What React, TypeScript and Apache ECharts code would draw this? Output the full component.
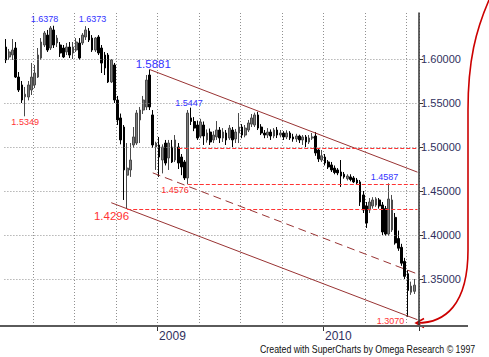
import React, { useEffect, useRef } from "react";
import * as echarts from "echarts";

// ---------- data ----------
const FIRST_WEEK_UTC = Date.UTC(2008, 1, 1);
const WEEK_MS = 7 * 86400000;
const SLOT_COUNT = 130; // 129 weekly bars + one empty slot at the right edge

const weeks: string[] = Array.from({ length: SLOT_COUNT }, (_, i) =>
  new Date(FIRST_WEEK_UTC + i * WEEK_MS).toISOString().slice(0, 10)
);

const priceTicks = [1.35, 1.4, 1.45, 1.5, 1.55, 1.6];

// weekly bars: [open, close, low, high]
const ohlc: number[][] = [
  [1.6136, 1.5989, 1.5954, 1.6227],
  [1.6023, 1.608, 1.5989, 1.6114],
  [1.6046, 1.6102, 1.5989, 1.6227],
  [1.6125, 1.5795, 1.5784, 1.6193],
  [1.5795, 1.5648, 1.5625, 1.5852],
  [1.5705, 1.5534, 1.55, 1.575],
  [1.557, 1.56, 1.5349, 1.5682],
  [1.5568, 1.5705, 1.553, 1.575],
  [1.5648, 1.5795, 1.5591, 1.5955],
  [1.5705, 1.5841, 1.567, 1.5932],
  [1.5795, 1.6045, 1.5784, 1.6125],
  [1.6011, 1.6193, 1.5989, 1.6238],
  [1.6159, 1.6295, 1.6136, 1.6318],
  [1.6272, 1.6102, 1.608, 1.633],
  [1.6125, 1.6352, 1.6102, 1.6375],
  [1.633, 1.6159, 1.6125, 1.6378],
  [1.6182, 1.6238, 1.6136, 1.6272],
  [1.6159, 1.6068, 1.6023, 1.6193],
  [1.6125, 1.6023, 1.6011, 1.6159],
  [1.608, 1.6136, 1.6045, 1.6182],
  [1.6136, 1.6045, 1.6011, 1.6193],
  [1.6068, 1.6136, 1.6, 1.6193],
  [1.6102, 1.6193, 1.608, 1.6238],
  [1.6182, 1.6011, 1.5989, 1.6238],
  [1.6182, 1.6272, 1.6159, 1.6295],
  [1.625, 1.633, 1.6216, 1.6373],
  [1.6318, 1.6216, 1.6193, 1.6352],
  [1.6238, 1.6102, 1.608, 1.6272],
  [1.6102, 1.6238, 1.608, 1.625],
  [1.625, 1.6068, 1.6045, 1.6272],
  [1.6125, 1.5954, 1.5841, 1.6159],
  [1.6045, 1.5898, 1.5818, 1.608],
  [1.6045, 1.5739, 1.5727, 1.6068],
  [1.5739, 1.5989, 1.5727, 1.6],
  [1.5932, 1.5534, 1.55, 1.5955],
  [1.5534, 1.5307, 1.525, 1.558],
  [1.533, 1.508, 1.503, 1.538],
  [1.5227, 1.4739, 1.4398, 1.525],
  [1.468, 1.476, 1.4296, 1.5045],
  [1.4739, 1.4852, 1.466, 1.5045],
  [1.5023, 1.5114, 1.499, 1.5227],
  [1.5045, 1.5386, 1.5023, 1.542],
  [1.5307, 1.542, 1.5045, 1.5455],
  [1.542, 1.5534, 1.5375, 1.558],
  [1.5455, 1.5761, 1.542, 1.5818],
  [1.5818, 1.5455, 1.542, 1.5881],
  [1.5364, 1.5023, 1.499, 1.542],
  [1.5, 1.5045, 1.4739, 1.506],
  [1.5023, 1.4886, 1.466, 1.5114],
  [1.4852, 1.5, 1.47, 1.503],
  [1.5045, 1.4818, 1.479, 1.508],
  [1.4875, 1.5045, 1.4739, 1.508],
  [1.5, 1.483, 1.4818, 1.508],
  [1.4852, 1.508, 1.483, 1.5136],
  [1.5, 1.4818, 1.475, 1.5045],
  [1.4886, 1.4773, 1.468, 1.492],
  [1.483, 1.4648, 1.4625, 1.4852],
  [1.4648, 1.5386, 1.4576, 1.542],
  [1.533, 1.529, 1.525, 1.5447],
  [1.529, 1.5215, 1.518, 1.534],
  [1.525, 1.5102, 1.508, 1.53],
  [1.5125, 1.5284, 1.51, 1.532],
  [1.525, 1.5125, 1.5023, 1.529],
  [1.508, 1.5159, 1.505, 1.52],
  [1.517, 1.5057, 1.5023, 1.521],
  [1.508, 1.5136, 1.5045, 1.518],
  [1.5114, 1.5193, 1.508, 1.5295],
  [1.5193, 1.5102, 1.5045, 1.5227],
  [1.5102, 1.517, 1.5057, 1.5215],
  [1.5159, 1.508, 1.5023, 1.5193],
  [1.5102, 1.5215, 1.508, 1.525],
  [1.5193, 1.508, 1.5, 1.5227],
  [1.5091, 1.517, 1.5045, 1.5205],
  [1.5159, 1.5227, 1.5045, 1.5386],
  [1.5227, 1.5136, 1.51, 1.526],
  [1.5136, 1.5215, 1.511, 1.525],
  [1.5193, 1.5273, 1.517, 1.5307],
  [1.526, 1.533, 1.5227, 1.5375],
  [1.525, 1.5364, 1.5227, 1.539],
  [1.5364, 1.5215, 1.5193, 1.54],
  [1.5227, 1.5159, 1.5136, 1.526],
  [1.5159, 1.5136, 1.51, 1.5193],
  [1.5136, 1.517, 1.5102, 1.5215],
  [1.517, 1.5125, 1.508, 1.52],
  [1.5125, 1.5193, 1.51, 1.5215],
  [1.5193, 1.5136, 1.5102, 1.5227],
  [1.5136, 1.5159, 1.511, 1.5193],
  [1.5159, 1.5114, 1.508, 1.518],
  [1.5114, 1.5159, 1.509, 1.519],
  [1.5159, 1.5102, 1.508, 1.518],
  [1.5114, 1.5091, 1.506, 1.515],
  [1.5091, 1.5125, 1.5057, 1.515],
  [1.5125, 1.508, 1.5045, 1.514],
  [1.508, 1.5114, 1.5023, 1.5136],
  [1.5114, 1.5057, 1.5, 1.5136],
  [1.5057, 1.5102, 1.5034, 1.5136],
  [1.5102, 1.5114, 1.508, 1.5159],
  [1.5125, 1.4932, 1.49, 1.517],
  [1.4966, 1.4864, 1.483, 1.499],
  [1.4852, 1.49, 1.483, 1.4966],
  [1.4886, 1.4818, 1.479, 1.492],
  [1.483, 1.4773, 1.475, 1.4852],
  [1.4796, 1.4739, 1.4716, 1.483],
  [1.476, 1.471, 1.469, 1.479],
  [1.4739, 1.4705, 1.468, 1.476],
  [1.4716, 1.467, 1.4546, 1.4852],
  [1.469, 1.466, 1.464, 1.4716],
  [1.464, 1.467, 1.462, 1.469],
  [1.466, 1.463, 1.461, 1.469],
  [1.4648, 1.4603, 1.459, 1.467],
  [1.4625, 1.4591, 1.458, 1.4648],
  [1.4603, 1.4375, 1.433, 1.4625],
  [1.4455, 1.4284, 1.425, 1.45],
  [1.433, 1.4136, 1.408, 1.4375],
  [1.4284, 1.4375, 1.425, 1.442],
  [1.433, 1.4398, 1.43, 1.443],
  [1.434, 1.441, 1.432, 1.443],
  [1.4398, 1.433, 1.43, 1.442],
  [1.4341, 1.4034, 1.4, 1.4375],
  [1.43, 1.4011, 1.399, 1.433],
  [1.4011, 1.4409, 1.399, 1.4587],
  [1.4057, 1.4398, 1.4034, 1.4455],
  [1.42, 1.391, 1.389, 1.425],
  [1.396, 1.385, 1.382, 1.405],
  [1.386, 1.368, 1.365, 1.39],
  [1.37, 1.353, 1.35, 1.374],
  [1.356, 1.337, 1.307, 1.36],
  [1.335, 1.342, 1.332, 1.347],
  [1.336, 1.343, 1.333, 1.35],
];

// trend channel and horizontal levels: [week index, price]
const channelUpper = [[45, 1.5881], [129, 1.4714]];
const channelLower = [[33, 1.4367], [129, 1.3037]];
const channelMiddle = [[46, 1.4706], [129, 1.3557]];
const levelLines = [[54, 1.4985], [57, 1.4576], [38, 1.4296]]; // [from week, price]

// annotated turning points: [week index, price]
const pivotHighs = [[15, 1.6378], [25, 1.6373], [45, 1.5881], [58, 1.5447], [120, 1.4587]];
const pivotLows = [[6, 1.5349], [38, 1.4296], [57, 1.4576], [126, 1.307]];

// ---------- styling ----------
const Y_MIN = 1.296591;
const Y_MAX = 1.652273;
const BLUE = "#3333ff";
const RED = "#ff3333";
const AXIS_TEXT = "#30305e";
const SANS = '"Liberation Sans", Arial, sans-serif';
const highLabelOffsets = [[-9.4, -6.4], [6.7, -6.8], [3.7, -5.6], [-2, -5], [-4.3, -6]];
const highLabelSizes = [9, 9, 11.5, 9, 9];
const lowLabelOffsets = [[0, 6], [-15.7, 7.5], [-12.8, 6], [-17.5, 4]];
const lowLabelSizes = [9, 11.5, 9, 9];

const isYearStart = (i: number) =>
  i > 0 && weeks[i].slice(0, 4) !== weeks[i - 1].slice(0, 4);
const isQuarterStart = (i: number) => {
  if (i <= 0) return false;
  const m = Number(weeks[i].slice(5, 7));
  const pm = Number(weeks[i - 1].slice(5, 7));
  return m !== pm && (m - 1) % 3 === 0;
};

function buildOption(): echarts.EChartsCoreOption {
  const gridStyle = { color: "#909090", type: [1, 2], width: 1 };
  const channelStyle = { color: "#993333", type: "solid", width: 1 };
  const middleStyle = { color: "#993333", type: [8, 5], width: 1 };
  const levelStyle = { color: RED, type: [4, 2], width: 1 };
  const seg = (pts: number[][], style: any) => [
    { coord: pts[0], lineStyle: style },
    { coord: pts[1], lineStyle: style },
  ];
  const lastSlot = SLOT_COUNT - 1;

  const markLineData: any[] = [
    ...priceTicks.map((v) => ({ yAxis: v, lineStyle: gridStyle })),
    seg(channelUpper, channelStyle),
    seg(channelLower, channelStyle),
    seg(channelMiddle, middleStyle),
    ...levelLines.map(([from, v]) => seg([[from, v], [lastSlot, v]], levelStyle)),
  ];

  const markPointData: any[] = [
    ...pivotHighs.map(([i, p], k) => ({
      name: p.toFixed(4),
      coord: [i, p],
      label: {
        color: BLUE,
        fontSize: highLabelSizes[k],
        offset: highLabelOffsets[k],
      },
    })),
    ...pivotLows.map(([i, p], k) => ({
      name: p.toFixed(4),
      coord: [i, p],
      label: {
        color: RED,
        fontSize: lowLabelSizes[k],
        offset: lowLabelOffsets[k],
      },
    })),
  ];

  return {
    animation: false,
    backgroundColor: "#ffffff",
    grid: { left: 4.4, right: 69.9, top: 13, bottom: 31 },
    xAxis: {
      type: "category",
      data: weeks,
      boundaryGap: true,
      axisLine: { show: true, lineStyle: { color: "#5a5a5a", width: 2 } },
      axisTick: {
        show: true,
        interval: (i: number) => isYearStart(i),
        length: 5,
        lineStyle: { color: "#333", width: 1 },
      },
      axisLabel: {
        show: true,
        interval: (i: number) => isYearStart(i),
        formatter: (v: string) => v.slice(0, 4),
        align: "left",
        margin: 4,
        color: AXIS_TEXT,
        fontSize: 12,
        fontFamily: SANS,
      },
      splitLine: {
        show: true,
        interval: (i: number) => isQuarterStart(i),
        lineStyle: gridStyle,
      },
    },
    yAxis: {
      type: "value",
      position: "right",
      min: Y_MIN,
      max: Y_MAX,
      scale: true,
      axisLine: { show: true, lineStyle: { color: "#333", width: 1.5 } },
      axisTick: {
        show: true,
        customValues: priceTicks,
        length: 4,
        lineStyle: { color: "#333" },
      },
      axisLabel: {
        show: true,
        customValues: priceTicks,
        formatter: (v: number) => v.toFixed(5),
        color: AXIS_TEXT,
        fontSize: 11,
        fontFamily: SANS,
        margin: 2,
      },
      splitLine: { show: false },
    },
    graphic: [
      {
        type: "line",
        shape: { x1: 0, y1: 326, x2: 468, y2: 326 },
        style: { stroke: "#5a5a5a", lineWidth: 2 },
        z: 10,
      },
      {
        type: "group",
        z: 20,
        children: [
          {
            type: "bezierCurve",
            shape: { x1: 489, y1: 0, cpx1: 476, cpy1: 30, cpx2: 468, cpy2: 60, x2: 468, y2: 110 },
            style: { stroke: "#cc0000", lineWidth: 1.6, fill: null },
          },
          {
            type: "line",
            shape: { x1: 468, y1: 110, x2: 468, y2: 250 },
            style: { stroke: "#cc0000", lineWidth: 1.6 },
          },
          {
            type: "bezierCurve",
            shape: { x1: 468, y1: 250, cpx1: 468, cpy1: 305, cpx2: 445, cpy2: 323, x2: 417, y2: 323 },
            style: { stroke: "#cc0000", lineWidth: 1.6, fill: null },
          },
          {
            type: "polyline",
            shape: { points: [[424, 318.5], [416, 323], [424, 327.5]] },
            style: { stroke: "#cc0000", lineWidth: 1.6, fill: null },
          },
        ],
      },
      {
        type: "text",
        x: 260,
        y: 349,
        scaleX: 0.8,
        style: {
          text: "Created with SuperCharts by Omega Research © 1997",
          fill: "#111",
          fontSize: 11,
          fontFamily: SANS,
          textAlign: "left",
          textVerticalAlign: "middle",
        },
      },
    ],
    series: [
      {
        type: "candlestick",
        data: ohlc,
        barWidth: 2.2,
        itemStyle: {
          color: "#7c7c7c",
          color0: "#000000",
          borderColor: "#4a4a4a",
          borderColor0: "#000000",
          borderWidth: 1,
        },
        markLine: {
          silent: true,
          symbol: ["none", "none"],
          label: { show: false },
          data: markLineData,
        },
        markPoint: {
          silent: true,
          symbol: "circle",
          symbolSize: 1,
          itemStyle: { color: "rgba(0,0,0,0)" },
          label: {
            show: true,
            position: "inside",
            formatter: "{b}",
            fontFamily: SANS,
          },
          data: markPointData,
        },
      },
    ],
  };
}

export default function App() {
  const ref = useRef<HTMLDivElement>(null);
  useEffect(() => {
    if (!ref.current) return;
    const chart = echarts.init(ref.current, null, { renderer: "svg" });
    chart.setOption(buildOption());
    return () => chart.dispose();
  }, []);
  return (
    <div
      ref={ref}
      style={{
        position: "absolute",
        left: 0,
        top: 0,
        width: 489,
        height: 357,
        background: "#ffffff",
      }}
    />
  );
}
